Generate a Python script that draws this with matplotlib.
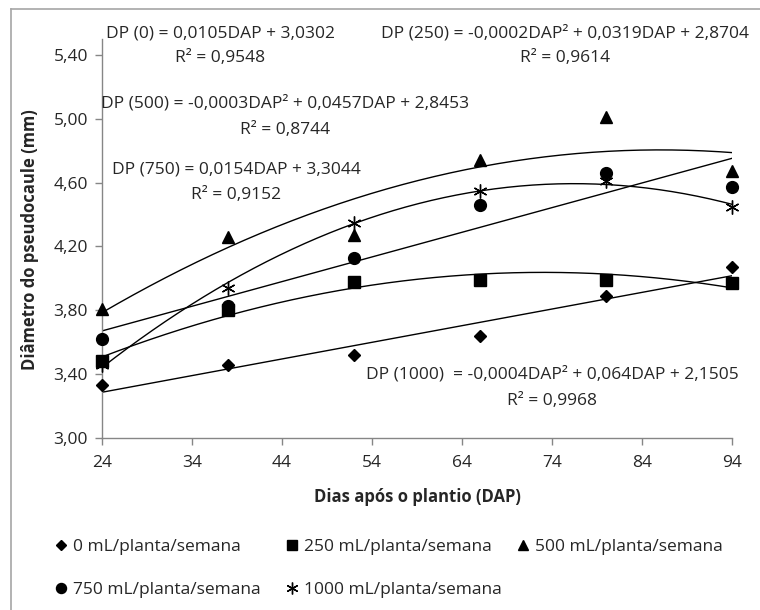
import matplotlib
matplotlib.use("Agg")
import matplotlib.pyplot as plt
from matplotlib.lines import Line2D
from matplotlib.ticker import FuncFormatter
import numpy as np

plt.rcParams['font.family'] = ['Open Sans', 'DejaVu Sans']

# dias apos o plantio
dap = [24, 38, 52, 66, 80, 94]

# diametro do pseudocaule (mm) por lamina
dp_0 = [3.33, 3.46, 3.52, 3.64, 3.89, 4.07]
dp_250 = [3.48, 3.80, 3.98, 3.99, 3.99, 3.97]
dp_500 = [3.81, 4.26, 4.27, 4.74, 5.01, 4.67]
dp_750 = [3.62, 3.83, 4.13, 4.46, 4.66, 4.57]
dp_1000 = [3.46, 3.94, 4.35, 4.55, 4.61, 4.45]

rotulos = ["0 mL/planta/semana", "250 mL/planta/semana", "500 mL/planta/semana",
           "750 mL/planta/semana", "1000 mL/planta/semana"]
series = [dp_0, dp_250, dp_500, dp_750, dp_1000]
graus = [1, 2, 2, 1, 2]   # grau da linha de tendencia

equacoes = [
    ("DP (0) = 0,0105DAP + 3,0302", "R² = 0,9548"),
    ("DP (250) = -0,0002DAP² + 0,0319DAP + 2,8704", "R² = 0,9614"),
    ("DP (500) = -0,0003DAP² + 0,0457DAP + 2,8453", "R² = 0,8744"),
    ("DP (750) = 0,0154DAP + 3,3044", "R² = 0,9152"),
    ("DP (1000)  = -0,0004DAP² + 0,064DAP + 2,1505", "R² = 0,9968"),
]

W, H = 760, 610
CINZA = "#868686"
TEXTO = "#262626"

# marcadores: (marker, tamanho)
marcadores = [("D", 6.5), ("s", 8), ("^", 9), ("o", 8.5), ((6, 2, 0), 10)]


def fx(px):
    return px / W


def fy(py):
    return 1 - py / H


fig = plt.figure(figsize=(W / 100, H / 100), dpi=100)
ax = fig.add_axes([fx(102), fy(438), fx(630), (438 - 39) / H])

xs = np.linspace(dap[0], dap[-1], 200)
for valores, grau, (mk, ms) in zip(series, graus, marcadores):
    coef = np.polyfit(dap, valores, grau)
    ax.plot(xs, np.polyval(coef, xs), color="black", lw=1.0, zorder=2)
    ax.plot(dap, valores, linestyle="none", marker=mk, markersize=ms,
            color="black", markeredgewidth=1.0, zorder=3, clip_on=False)

ax.set_xlim(24, 94)
ax.set_ylim(3.0, 5.5)
ax.set_xticks(np.arange(24, 95, 10))
ax.set_yticks(np.arange(3.0, 5.41, 0.4))
ax.yaxis.set_major_formatter(FuncFormatter(lambda v, p: f"{v:.2f}".replace(".", ",")))

for lado in ["top", "right"]:
    ax.spines[lado].set_visible(False)
for lado in ["left", "bottom"]:
    ax.spines[lado].set_color(CINZA)
    ax.spines[lado].set_linewidth(1.0)
ax.tick_params(axis="both", direction="out", length=5, width=1.0, color=CINZA,
               labelsize=12.5, labelcolor=TEXTO)
ax.tick_params(axis="x", pad=7)
ax.tick_params(axis="y", pad=5)

fig.text(fx(417), fy(497), "Dias após o plantio (DAP)", ha="center", va="center",
         fontsize=12, fontweight="bold", color=TEXTO)
fig.text(fx(30), fy(240), "Diâmetro do pseudocaule (mm)", ha="center", va="center",
         rotation=90, fontsize=12, fontweight="bold", color=TEXTO)

# posicoes das equacoes (centro x, y linha 1, y linha 2)
pos_eq = [(220, 33, 58), (565, 33, 58), (285, 103, 130), (236, 170, 195), (552, 374, 401)]
for (l1, l2), (cx, y1, y2) in zip(equacoes, pos_eq):
    fig.text(fx(cx), fy(y1), l1, ha="center", va="center", fontsize=12.5, color=TEXTO)
    fig.text(fx(cx), fy(y2), l2, ha="center", va="center", fontsize=12.5, color=TEXTO)

# legenda em grade (3 colunas de largura igual)
pos_leg = [(54, 547), (285, 547), (516, 547), (54, 590), (285, 590)]
for rot, (mk, ms), (lx, ly) in zip(rotulos, marcadores, pos_leg):
    h = Line2D([], [], linestyle="none", marker=mk, markersize=ms * 0.85, color="black")
    fig.legend(handles=[h], labels=[rot], loc="center left", bbox_to_anchor=(fx(lx), fy(ly)),
               frameon=False, borderpad=0, borderaxespad=0, handlelength=0.8,
               handletextpad=0.3, fontsize=12.5, labelcolor=TEXTO)

# moldura do grafico
fig.add_artist(Line2D([fx(11), fx(11)], [fy(9), 0], color="#a6a6a6", lw=1.2))
fig.add_artist(Line2D([fx(11), 1], [fy(9), fy(9)], color="#a6a6a6", lw=1.2))

fig.savefig("out.png", dpi=100)
